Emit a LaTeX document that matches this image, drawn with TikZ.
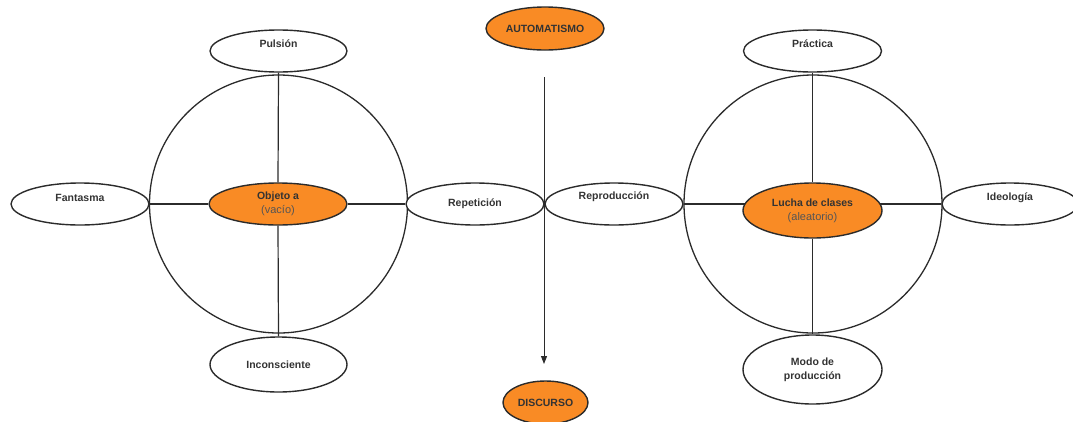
\documentclass[tikz,border=0pt]{standalone}
\usepackage{fontspec}
\setmainfont{Liberation Sans}
\usetikzlibrary{shapes.geometric,arrows.meta,backgrounds}
\definecolor{orng}{HTML}{F98B25}
\definecolor{ink}{HTML}{2B2B2B}
\definecolor{txt}{HTML}{333333}
\definecolor{subtxt}{HTML}{555555}
\begin{document}
\begin{tikzpicture}[x=1pt,y=-1pt,
  lblfont/.style={font=\fontsize{10.5}{14}\selectfont\bfseries, text=txt},
  ov/.style={ellipse, draw=ink, line width=1.4pt, fill=white, inner sep=0pt,
    lblfont, align=center},
  hot/.style={ov, fill=orng},
  lbl/.style={lblfont, inner sep=0pt},
  ring/.style={circle, draw=ink, line width=1.3pt, minimum size=258pt, inner sep=0pt},
  link/.style={draw=ink, line width=1.2pt},
  arr/.style={draw=ink, line width=1pt, -{Triangle[length=8pt,width=6pt]}}
]
\newcommand{\subl}[1]{{\fontsize{11}{14}\selectfont\mdseries\color{subtxt}#1}}
\useasboundingbox (0,0) rectangle (1073,421);
\clip (0,0) rectangle (1073,421);

% left group
\node[ov, minimum width=137pt, minimum height=42pt,
  label={[lbl,yshift=7pt]center:Pulsión}] (pul) at (278.5,51) {};
\node[ov, minimum width=138pt, minimum height=42pt,
  label={[lbl,yshift=6pt]center:Fantasma}] (fan) at (80,204) {};
\node[hot, minimum width=138pt, minimum height=42pt] (obj) at (278,204)
  {Objeto a\\\subl{(vacío)}};
\node[ov, minimum width=138pt, minimum height=42pt] (rep) at (475,204) {Repetición};
\node[ov, minimum width=137pt, minimum height=55pt] (inc) at (278.5,364.5) {Inconsciente};

% centre
\node[hot, minimum width=118pt, minimum height=43pt] (aut) at (545,28.5) {AUTOMATISMO};
\node[hot, minimum width=85pt, minimum height=43pt] (dis) at (545.5,402.5) {DISCURSO};
\coordinate (a1) at (544,77);
\coordinate (a2) at (544,364);

% right group
\node[ov, minimum width=138pt, minimum height=42pt,
  label={[lbl,yshift=7pt]center:Reproducción}] (repro) at (614,204) {};
\node[ov, minimum width=138pt, minimum height=42pt,
  label={[lbl,yshift=7pt]center:Práctica}] (pra) at (812.5,51) {};
\node[hot, minimum width=139pt, minimum height=55pt] (luc) at (812.5,210.5)
  {Lucha de clases\\\subl{(aleatorio)}};
\node[ov, minimum width=136pt, minimum height=42pt,
  label={[lbl,yshift=6pt]center:Ideología}] (ideo) at (1010,204) {};
\node[ov, minimum width=139pt, minimum height=69pt] (modo) at (812.5,369.5)
  {Modo de\\producción};

\begin{scope}[on background layer]
  \node[ring] (c1) at (278.5,204) {};
  \node[ring] (c2) at (813,204) {};
  \draw[link] (pul.south) -- (obj.north);
  \draw[link] (obj.south) -- (inc.north);
  \draw[link] (fan.east) -- (obj.west);
  \draw[link] (obj.east) -- (rep.west);
  \draw[link] (pra.south) -- (luc.north);
  \draw[link] (luc.south) -- (modo.north);
  \draw[link] (repro.east) -- (repro.east -| luc.center);
  \draw[link] (ideo.west -| luc.center) -- (ideo.west);
  \draw[arr] (a1) -- (a2);
\end{scope}
\end{tikzpicture}
\end{document}
